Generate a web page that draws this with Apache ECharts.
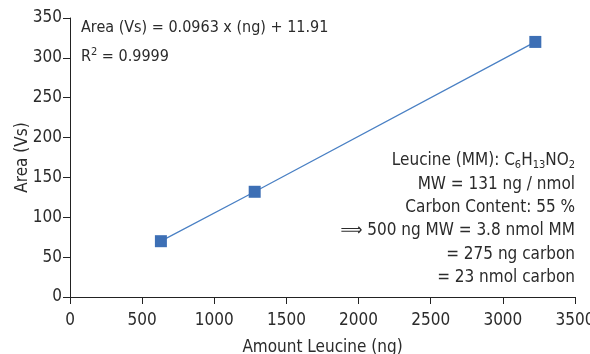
<!DOCTYPE html>
<html><head><meta charset="utf-8">
<script src="https://cdn.jsdelivr.net/npm/echarts@6/dist/echarts.min.js"></script>
<style>html,body{margin:0;padding:0;background:#fff}#c{width:590px;height:354px}</style>
</head><body><div id="c"></div>
<script>
const amountNg = [630, 1280, 3225];
const areaVs = [70, 132, 320];
const xTicks = [0, 500, 1000, 1500, 2000, 2500, 3000, 3500];
const yTicks = [0, 50, 100, 150, 200, 250, 300, 350];
const FONT = '"DejaVu Sans Condensed","Liberation Sans Narrow",sans-serif';
const TXT = '#2b2b2b';
const chart = echarts.init(document.getElementById('c'));
function mkRich(fs) {
  return {
    n: {fontSize: fs, fontFamily: FONT, color: TXT, lineHeight: 20},
    sub: {fontSize: 11, fontFamily: FONT, color: TXT, lineHeight: 12, verticalAlign: 'bottom'},
    sup: {fontSize: 11, fontFamily: FONT, color: TXT, lineHeight: 12, verticalAlign: 'top'}
  };
}
function txt(x, y, text, align, fs) {
  return {type: 'text', x: x, y: y, style: {text: text, rich: mkRich(fs), align: align, verticalAlign: 'middle', fontSize: fs, fontFamily: FONT, fill: TXT}};
}
const rightLines = [
  '{n|Leucine (MM): C}{sub|6}{n|H}{sub|13}{n|NO}{sub|2}',
  '{n|MW = 131 ng / nmol}',
  '{n|Carbon Content: 55 %}',
  '{n|⟹ 500 ng MW = 3.8 nmol MM}',
  '{n|= 275 ng carbon}',
  '{n|= 23 nmol carbon}'
];
const graphics = [
  txt(81, 28, '{n|Area (Vs) = 0.0963 x (ng) + 11.91}', 'left', 16),
  txt(81, 57, '{n|R}{sup|2}{n| = 0.9999}', 'left', 16)
];
rightLines.forEach((t, i) => graphics.push(txt(575, 161 + i * 23.3, t, 'right', 17)));
chart.setOption({
  animation: false,
  grid: {left: 70, right: 15, top: 18, bottom: 57, containLabel: false, outerBoundsMode: 'none'},
  xAxis: {
    type: 'value', min: xTicks[0], max: xTicks[xTicks.length - 1], interval: xTicks[1] - xTicks[0],
    name: 'Amount Leucine (ng)', nameLocation: 'middle', nameGap: 42,
    nameTextStyle: {fontSize: 17, fontFamily: FONT, color: TXT},
    axisLine: {show: true, lineStyle: {color: '#222', width: 1}},
    axisTick: {show: true, length: 7, lineStyle: {color: '#222'}},
    axisLabel: {fontSize: 17, fontFamily: FONT, color: TXT, margin: 15, formatter: v => String(v)},
    splitLine: {show: false}
  },
  yAxis: {
    type: 'value', min: yTicks[0], max: yTicks[yTicks.length - 1], interval: yTicks[1] - yTicks[0],
    name: 'Area (Vs)', nameLocation: 'middle', nameGap: 39, nameMoveOverlap: false,
    nameTextStyle: {fontSize: 17, fontFamily: FONT, color: TXT},
    axisLine: {show: true, lineStyle: {color: '#222', width: 1}},
    axisTick: {show: true, length: 7, lineStyle: {color: '#222'}},
    axisLabel: {fontSize: 17, fontFamily: FONT, color: TXT, margin: 8, formatter: v => String(v)},
    splitLine: {show: false}
  },
  series: [{
    type: 'line',
    data: amountNg.map((x, i) => [x, areaVs[i]]),
    symbol: 'rect', symbolSize: 12,
    itemStyle: {color: '#3d6fb5'},
    lineStyle: {color: '#4a80c4', width: 1.3}
  }],
  graphic: graphics
});
</script></body></html>
